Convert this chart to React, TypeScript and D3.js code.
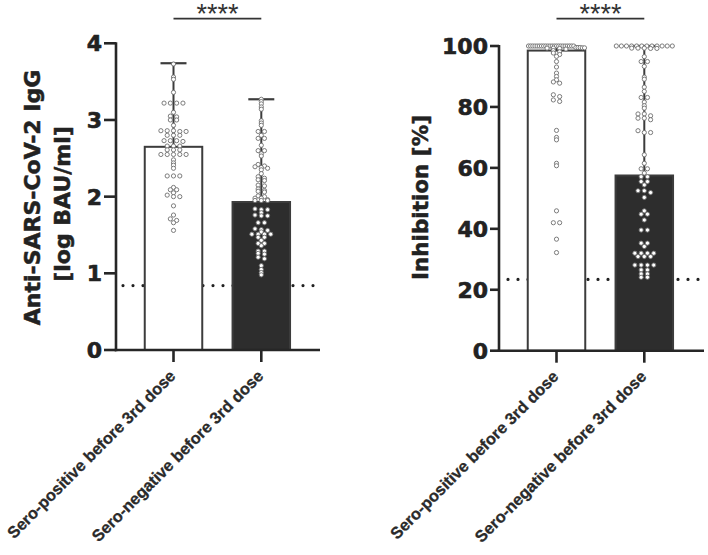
import React from 'react';
import * as d3 from 'd3';

const categories = ['Sero-positive before 3rd dose', 'Sero-negative before 3rd dose'];

const iggTicks = [0, 1, 2, 3, 4];
const inhTicks = [0, 20, 40, 60, 80, 100];

const iggBar = [2.65, 1.93];
const iggMax = [3.74, 3.27];
const inhBar = [98.5, 57.5];
const inhMax = [100, 100];

const iggCutoff = 0.84;
const inhCutoff = 23.4;

const iggPos = [
  3.73, 3.56, 3.53, 3.36, 3.22, 3.22, 3.22, 3.22, 3.10, 3.05, 3.04, 3.00, 3.00, 2.93,
  2.86, 2.86, 2.86, 2.85, 2.85, 2.80, 2.80, 2.80, 2.73, 2.73, 2.73, 2.72, 2.66, 2.66, 2.66,
  2.61, 2.61, 2.61, 2.55, 2.55, 2.55, 2.55, 2.55, 2.48, 2.44, 2.41, 2.37, 2.27, 2.27, 2.27,
  2.12, 2.09, 2.09, 2.05, 2.02, 2.00, 2.00, 1.88, 1.76, 1.71, 1.69, 1.66, 1.56,
];

const iggNeg = [
  3.27, 3.24, 3.21, 3.17, 3.14, 2.99, 2.96, 2.93, 2.85, 2.85, 2.80, 2.76, 2.76, 2.67,
  2.60, 2.60, 2.56, 2.53, 2.42, 2.40, 2.39, 2.38, 2.37, 2.35, 2.30, 2.26, 2.24, 2.22, 2.21,
  2.15, 2.14, 2.10, 2.08, 2.07, 2.06, 2.01, 2.00, 1.98, 1.98, 1.96, 1.95, 1.95, 1.95,
  1.84, 1.83, 1.83, 1.79, 1.76, 1.75, 1.75, 1.66, 1.66, 1.58, 1.57, 1.56,
  1.54, 1.51, 1.51, 1.51, 1.51, 1.47, 1.47, 1.43, 1.39, 1.39, 1.36,
  1.29, 1.29, 1.26, 1.25, 1.21, 1.19, 1.10, 1.05, 1.01, 0.98,
];

const inhPos = [
  100, 100, 100, 100, 100, 100, 100, 100, 100, 100, 100, 100, 100, 100, 100, 100, 100, 100,
  100, 100, 100, 100, 99.5, 99.5, 99.5, 99.4, 99.4, 99.3, 99.3, 99.2,
  99.0, 98.5, 98.1, 97.7, 97.2, 96.6, 94.9, 93.1, 91.1, 90.0, 88.9, 88.2, 87.8,
  84.0, 83.4, 82.3, 81.8, 72.3, 70.0, 69.2, 61.5, 60.7, 45.9, 42.0, 42.0, 36.6, 32.2,
];

const inhNeg = [
  100, 100, 100, 100, 100, 100, 100, 100, 100, 100, 100, 100, 99.3, 99.3, 99.3, 99.2, 99.2,
  96.5, 94.9, 94.9, 93.3, 89.8, 89.1, 86.5, 85.1, 83.1, 83.1, 81.6, 80.4, 79.6, 77.7, 77.7,
  77.1, 76.3, 76.3, 75.8, 72.2, 71.6, 71.6, 64.3, 61.5, 59.7, 59.7, 58.3, 57.1, 57.1,
  55.5, 55.5, 54.4, 52.5, 52.5, 51.9, 50.3, 45.9, 44.8, 44.8, 42.9, 39.6, 39.6,
  35.3, 35.3, 34.2, 32.0, 32.0, 32.0, 32.0, 30.9, 30.9, 30.9, 28.1, 28.1, 28.1, 28.1,
  26.5, 26.5, 25.2, 25.2, 24.1, 24.1,
];

type Pt = { v: number; dx: number };

function swarm(values: number[], y: (v: number) => number, spacing: number, maxHalf: number, thr: number): Pt[] {
  const sorted = [...values].sort((a, b) => b - a);
  const out: Pt[] = [];
  let bin: number[] = [];
  const flush = () => {
    const n = bin.length;
    const sp = n > 1 ? Math.min(spacing, (2 * maxHalf) / (n - 1)) : 0;
    bin.forEach((v, i) => out.push({ v, dx: (i - (n - 1) / 2) * sp }));
    bin = [];
  };
  for (const v of sorted) {
    if (bin.length && y(v) - y(bin[0]) > thr) flush();
    bin.push(v);
  }
  flush();
  return out;
}

type PanelProps = {
  axisX: number;
  xEnd: number;
  y: d3.ScaleLinear<number, number>;
  ticks: number[];
  bars: number[];
  maxes: number[];
  groups: number[][];
  cutoff: number;
  dotStart: number;
  titleLines: string[];
  titleXs: number[];
  titleYs: number[];
  titleSize: number;
  tickLen: number;
};

const AX = '#262626';
const BARSTROKE = '#3c3c3c';
const DARK = '#2d2d2d';

function Panel(p: PanelProps) {
  const x = d3.scalePoint<string>().domain(categories).range([p.axisX + 57.5, p.axisX + 145.3]);
  const y0 = p.y(0);
  const yTop = p.y(p.ticks[p.ticks.length - 1]);
  const bw = 57.5;
  const dotY = p.y(p.cutoff);
  const cx0 = x(categories[0])!;
  const cx1 = x(categories[1])!;
  return (
    <g>
      <line x1={p.dotStart} x2={p.xEnd} y1={dotY} y2={dotY} stroke="#222" strokeWidth={3.2}
        strokeDasharray="0 10" strokeLinecap="round" />
      {categories.map((c, i) => (
        <rect key={c} x={x(c)! - bw / 2} y={p.y(p.bars[i])} width={bw} height={y0 - p.y(p.bars[i])}
          fill={i === 0 ? '#ffffff' : DARK} stroke={BARSTROKE} strokeWidth={2} />
      ))}
      {categories.map((c, i) => (
        <g key={c + 'e'}>
          <line x1={x(c)} x2={x(c)} y1={p.y(p.bars[i])} y2={p.y(p.maxes[i])} stroke={BARSTROKE} strokeWidth={2} />
          <line x1={x(c)! - 13} x2={x(c)! + 13} y1={p.y(p.maxes[i])} y2={p.y(p.maxes[i])} stroke={BARSTROKE} strokeWidth={2.2} />
        </g>
      ))}
      {categories.map((c, i) =>
        swarm(p.groups[i], p.y, 6.3, 28, 2.0).map((pt, j) => (
          <circle key={c + j} cx={x(c)! + pt.dx} cy={p.y(pt.v)} r={2.1} fill="#ffffff" stroke="#6e6e6e" strokeWidth={0.9} />
        ))
      )}
      <line x1={p.axisX} x2={p.axisX} y1={yTop - 1} y2={y0 + 1.2} stroke={AX} strokeWidth={2.6} />
      <line x1={p.axisX - 1.3} x2={p.xEnd} y1={y0} y2={y0} stroke={AX} strokeWidth={2.6} />
      {p.ticks.map((t) => (
        <g key={t}>
          <line x1={p.axisX - p.tickLen} x2={p.axisX} y1={p.y(t)} y2={p.y(t)} stroke={AX} strokeWidth={2.6} />
          <text x={p.axisX - p.tickLen - 2} y={p.y(t)} dy="0.36em" textAnchor="end"
            fontFamily="DejaVu Sans" fontWeight="bold" fontSize={22} fill="#222"
            stroke="#222" strokeWidth={0.6} strokeLinejoin="round">{t}</text>
        </g>
      ))}
      {categories.map((c) => (
        <g key={c + 't'}>
          <line x1={x(c)} x2={x(c)} y1={y0} y2={y0 + 12} stroke={AX} strokeWidth={2.6} />
          <text transform={`translate(${x(c)! + 3},${y0 + 27}) rotate(-45)`} textAnchor="end"
            fontFamily="Liberation Sans, Arial, sans-serif" fontWeight="bold" fontSize={16.3} fill="#2a2a2a"
            stroke="#2a2a2a" strokeWidth={0.3}>{c}</text>
        </g>
      ))}
      <line x1={cx0} x2={cx1} y1={18.6} y2={18.6} stroke="#333" strokeWidth={1.6} />
      <text x={(cx0 + cx1) / 2} y={22.6} textAnchor="middle" fontFamily="Liberation Sans, Arial, sans-serif"
        fontSize={27} fill="#333">****</text>
      {p.titleLines.map((t, i) => (
        <text key={t} transform={`translate(${p.titleXs[i]},${p.titleYs[i]}) rotate(-90)`} textAnchor="middle"
          fontFamily="DejaVu Sans" fontWeight="bold" fontSize={p.titleSize} fill="#222"
          stroke="#222" strokeWidth={0.5} strokeLinejoin="round">{t}</text>
      ))}
    </g>
  );
}

export default function App() {
  const yL = d3.scaleLinear().domain([0, 4]).range([350, 43.3]);
  const yR = d3.scaleLinear().domain([0, 100]).range([350.7, 46]);
  return (
    <svg width={708} height={555} style={{ position: 'absolute', left: 0, top: 0, background: '#fff' }}>
      <rect x={0} y={0} width={708} height={555} fill="#fff" />
      <Panel axisX={116} xEnd={320} y={yL} ticks={iggTicks} bars={iggBar} maxes={iggMax}
        groups={[iggPos, iggNeg]} cutoff={iggCutoff} dotStart={123}
        titleLines={['Anti-SARS-CoV-2 IgG', '[log BAU/ml]']} titleXs={[39.5, 70]} titleYs={[197.5, 204]}
        titleSize={22} tickLen={12} />
      <Panel axisX={499} xEnd={704} y={yR} ticks={inhTicks} bars={inhBar} maxes={inhMax}
        groups={[inhPos, inhNeg]} cutoff={inhCutoff} dotStart={508}
        titleLines={['Inhibition [%]']} titleXs={[427.5]} titleYs={[197.5]}
        titleSize={21.5} tickLen={9} />
    </svg>
  );
}
